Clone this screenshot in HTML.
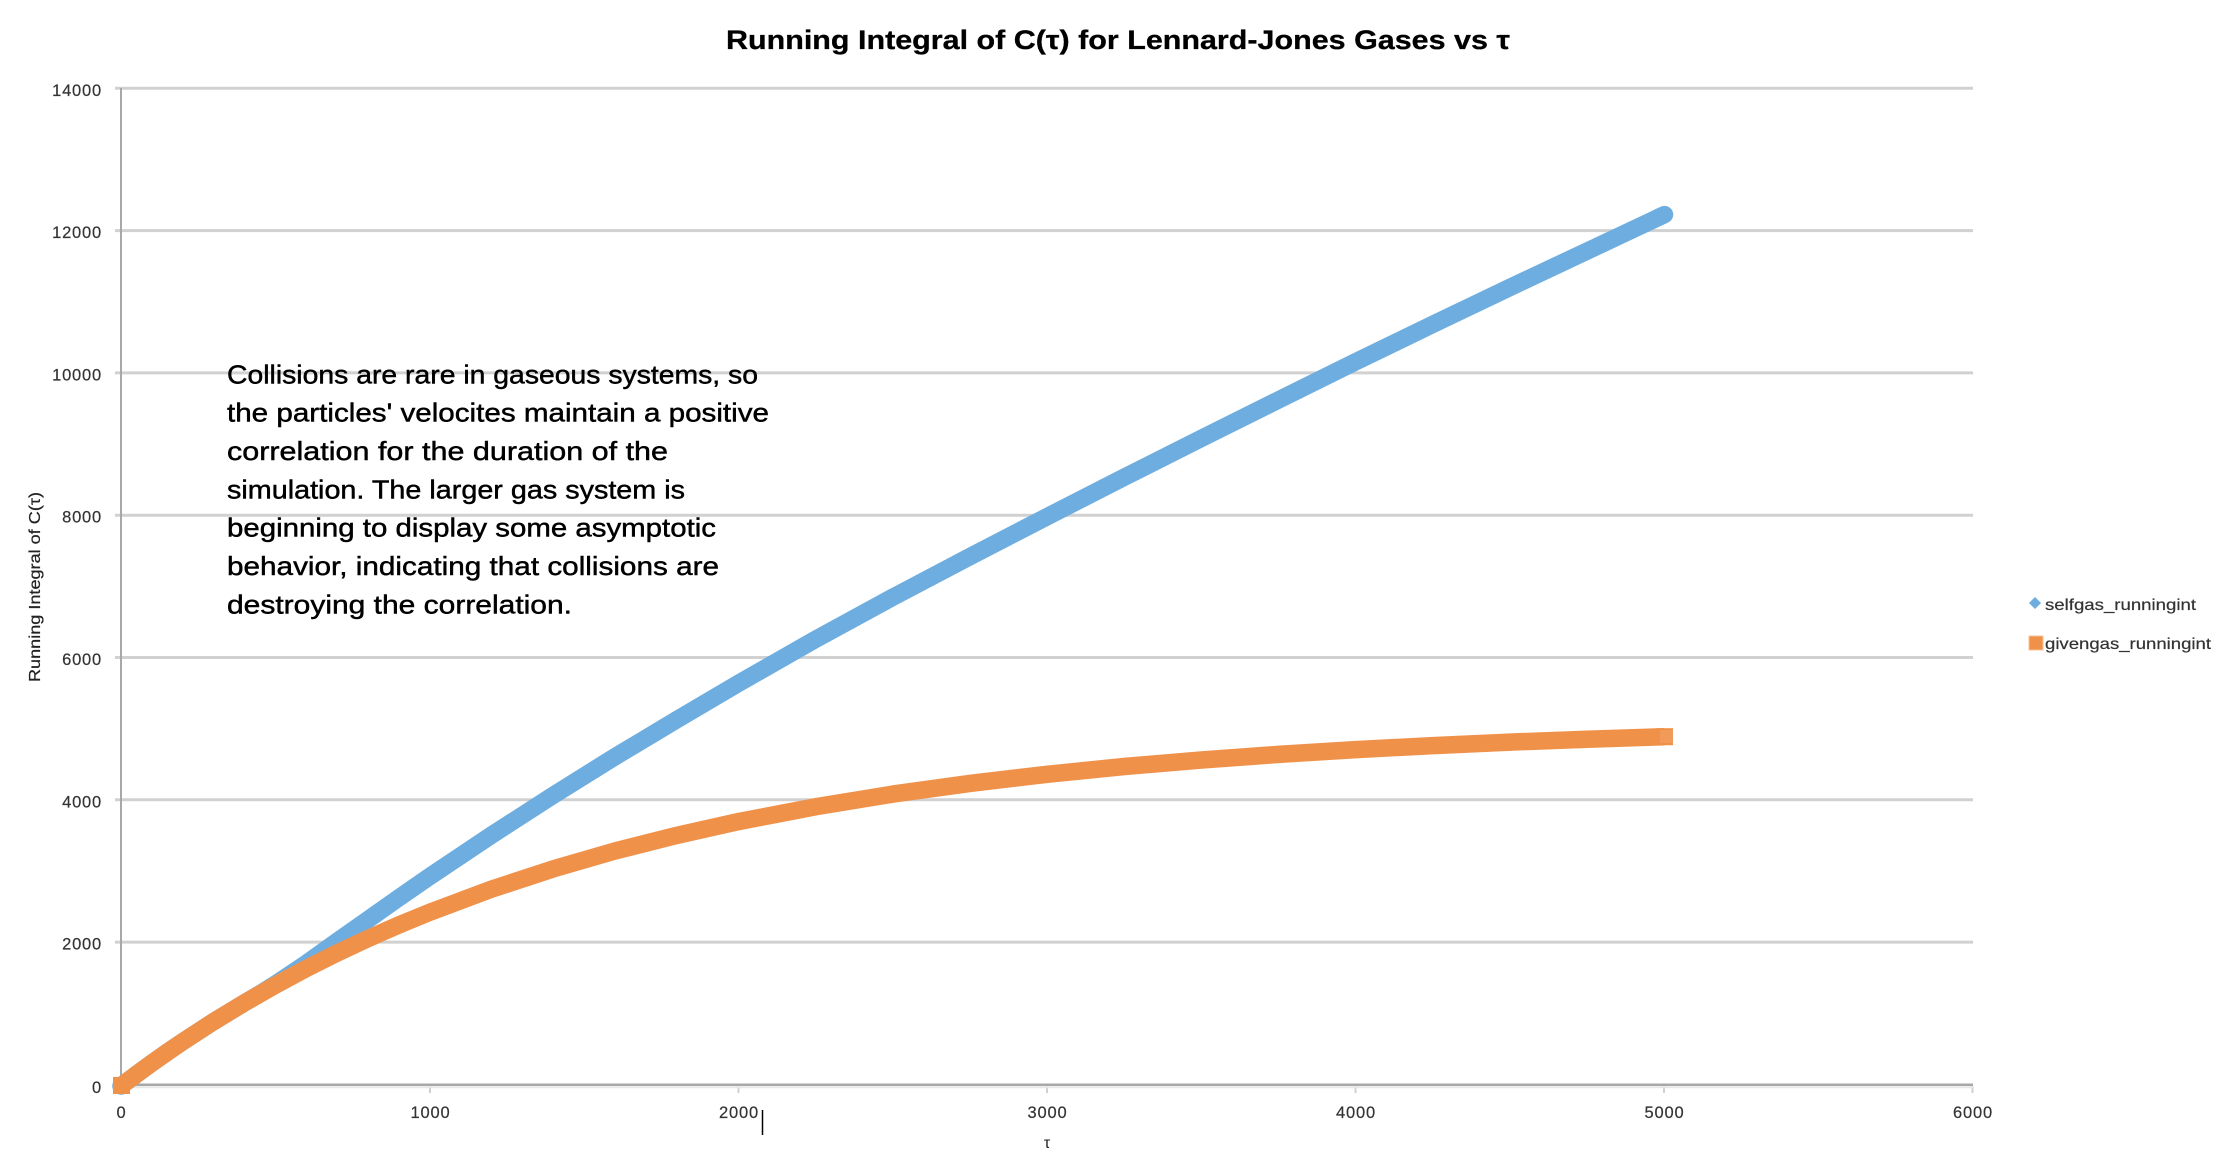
<!DOCTYPE html>
<html>
<head>
<meta charset="utf-8">
<style>
  html, body { margin:0; padding:0; background:#ffffff; }
  svg { display:block; }
  text { font-family: "Liberation Sans", "DejaVu Sans", sans-serif; }
</style>
</head>
<body>
<svg width="2234" height="1176" viewBox="0 0 2234 1176" xmlns="http://www.w3.org/2000/svg">
  <rect x="0" y="0" width="2234" height="1176" fill="#ffffff"/>

  <!-- Title -->
  <text x="726" y="49" font-size="27" font-weight="bold" fill="#000" stroke="#000" stroke-width="0.3" textLength="784" lengthAdjust="spacingAndGlyphs">Running Integral of C(τ) for Lennard-Jones Gases vs τ</text>

  <!-- Gridlines -->
  <g stroke="#d1d1d1" stroke-width="3">
    <line x1="115" y1="88.3" x2="1973" y2="88.3"/>
    <line x1="115" y1="230.6" x2="1973" y2="230.6"/>
    <line x1="115" y1="372.9" x2="1973" y2="372.9"/>
    <line x1="115" y1="515.2" x2="1973" y2="515.2"/>
    <line x1="115" y1="657.5" x2="1973" y2="657.5"/>
    <line x1="115" y1="799.8" x2="1973" y2="799.8"/>
    <line x1="115" y1="942.1" x2="1973" y2="942.1"/>
  </g>

  <!-- X ticks -->
  <g stroke="#d0d0d0" stroke-width="2">
    <line x1="430" y1="1086" x2="430" y2="1093"/>
    <line x1="738.5" y1="1086" x2="738.5" y2="1093"/>
    <line x1="1047" y1="1086" x2="1047" y2="1093"/>
    <line x1="1355.5" y1="1086" x2="1355.5" y2="1093"/>
    <line x1="1664" y1="1086" x2="1664" y2="1093"/>
    <line x1="1972.5" y1="1086" x2="1972.5" y2="1093"/>
  </g>

  <!-- Axes -->
  <line x1="115" y1="1087.3" x2="1973" y2="1087.3" stroke="#e8e8e8" stroke-width="2"/>
  <line x1="115" y1="1084.8" x2="1973" y2="1084.8" stroke="#a8a8a8" stroke-width="2.5"/>
  <line x1="121" y1="88" x2="121" y2="1086" stroke="#a8a8a8" stroke-width="2"/>

  <!-- Y labels -->
  <g font-size="16.5" fill="#333" stroke="#333" stroke-width="0.2" text-anchor="end" letter-spacing="0.8">
    <text x="102" y="95.8">14000</text>
    <text x="102" y="238.1">12000</text>
    <text x="102" y="380.4">10000</text>
    <text x="102" y="522.7">8000</text>
    <text x="102" y="665">6000</text>
    <text x="102" y="807.3">4000</text>
    <text x="102" y="949.6">2000</text>
    <text x="102" y="1093">0</text>
  </g>

  <!-- X labels -->
  <g font-size="16.5" fill="#333" stroke="#333" stroke-width="0.2" text-anchor="middle" letter-spacing="0.8">
    <text x="121.5" y="1118">0</text>
    <text x="430.5" y="1118">1000</text>
    <text x="739" y="1118">2000</text>
    <text x="1047.5" y="1118">3000</text>
    <text x="1356" y="1118">4000</text>
    <text x="1664.5" y="1118">5000</text>
    <text x="1973" y="1118">6000</text>
  </g>

  <!-- Axis titles -->
  <text x="1047" y="1148" font-size="16" fill="#222" text-anchor="middle">τ</text>
  <text transform="translate(40,587) rotate(-90)" x="0" y="0" font-size="16" fill="#222" stroke="#222" stroke-width="0.2" text-anchor="middle" textLength="190" lengthAdjust="spacingAndGlyphs">Running Integral of C(τ)</text>

  <!-- Cursor mark -->
  <line x1="762.5" y1="1110" x2="762.5" y2="1135" stroke="#000" stroke-width="1.5"/>

  <!-- Blue series (selfgas) -->
  <polyline fill="none" stroke="#6eaddf" stroke-width="17.5" stroke-linejoin="round" stroke-linecap="round"
    points="121,1086 136.4,1074.4 151.9,1063.1 167.3,1052.2 182.7,1041.7 213.6,1021.6 244.5,1002.8 259.9,993.8 275.35,984.1 306.2,963.5 337.1,941.4 368,919.6 398.8,897.9 429.7,876.5 491.4,835.2 553.2,795.3 614.9,756.8 676.7,719.8 738.4,683.4 815.6,639.3 892.8,597.2 969.9,556.6 1047.1,516.7 1124.3,477.2 1201.5,438.3 1278.6,399.9 1355.8,361.7 1433,324.3 1510.2,287.3 1587.3,251 1664.5,214.6"/>

  <!-- Orange series (givengas) -->
  <polyline fill="none" stroke="#f0914a" stroke-width="17.5" stroke-linejoin="round" stroke-linecap="butt"
    points="121,1086 136.4,1074.4 151.9,1063.1 167.3,1052.2 182.7,1041.7 213.6,1021.6 244.5,1002.8 275.4,985.2 306.2,968.6 337.1,953.1 368,938.6 398.8,925 429.7,912.3 491.4,889.2 553.2,868.9 614.9,851 676.7,835.4 738.4,821.6 815.6,806.8 892.8,794.1 969.9,783.4 1047.1,774.3 1124.3,766.5 1201.5,760 1278.6,754.4 1355.8,749.6 1433,745.6 1510.2,742.1 1587.3,739.2 1664.5,736.7"/>
  <rect x="113" y="1077" width="17" height="17" fill="#f0914a"/>
  <rect x="1656" y="728.2" width="17" height="17" fill="#f0914a"/>
  <rect x="1660" y="730" width="13" height="13" fill="#f29a5a"/>

  <!-- Annotation -->
  <g font-size="26" fill="#000" stroke="#000" stroke-width="0.45">
    <text x="227" y="383.3" textLength="531" lengthAdjust="spacingAndGlyphs">Collisions are rare in gaseous systems, so</text>
    <text x="227" y="421.6" textLength="542" lengthAdjust="spacingAndGlyphs">the particles' velocites maintain a positive</text>
    <text x="227" y="460" textLength="441" lengthAdjust="spacingAndGlyphs">correlation for the duration of the</text>
    <text x="227" y="498.3" textLength="458" lengthAdjust="spacingAndGlyphs">simulation. The larger gas system is</text>
    <text x="227" y="536.6" textLength="489" lengthAdjust="spacingAndGlyphs">beginning to display some asymptotic</text>
    <text x="227" y="575" textLength="492" lengthAdjust="spacingAndGlyphs">behavior, indicating that collisions are</text>
    <text x="227" y="613.3" textLength="345" lengthAdjust="spacingAndGlyphs">destroying the correlation.</text>
  </g>

  <!-- Legend -->
  <polygon points="2035,597 2041,603 2035,609 2029,603" fill="#6eaddf"/>
  <text x="2045" y="610" font-size="16" fill="#333" stroke="#333" stroke-width="0.2" textLength="151" lengthAdjust="spacingAndGlyphs">selfgas_runningint</text>
  <rect x="2029" y="636" width="14" height="14" fill="#f0914a" stroke="#f7c19a" stroke-width="1"/>
  <text x="2045" y="649" font-size="16" fill="#333" stroke="#333" stroke-width="0.2" textLength="166" lengthAdjust="spacingAndGlyphs">givengas_runningint</text>
</svg>
</body>
</html>
